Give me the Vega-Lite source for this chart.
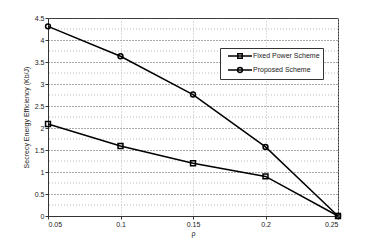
{
  "$schema": "https://vega.github.io/schema/vega-lite/v6.json",
  "width": 290,
  "height": 198,
  "autosize": {"type": "none"},
  "padding": {"left": 48, "top": 18, "right": 36, "bottom": 28},
  "background": "white",
  "config": {
    "font": "Liberation Sans",
    "view": {"stroke": "#333333", "strokeWidth": 1},
    "axis": {"labelFont": "Liberation Sans", "titleFont": "Liberation Sans", "labelFontSize": 7, "titleFontSize": 7, "titleFontWeight": "normal", "labelColor": "#222", "titleColor": "#222", "domainColor": "#333", "tickColor": "#333"}
  },
  "data": {"values": [
    {"rho": 0.05, "value": 2.09, "series": "Fixed Power Scheme"},
    {"rho": 0.10, "value": 1.59, "series": "Fixed Power Scheme"},
    {"rho": 0.15, "value": 1.2, "series": "Fixed Power Scheme"},
    {"rho": 0.20, "value": 0.9, "series": "Fixed Power Scheme"},
    {"rho": 0.25, "value": 0.0, "series": "Fixed Power Scheme"},
    {"rho": 0.05, "value": 4.31, "series": "Proposed Scheme"},
    {"rho": 0.10, "value": 3.63, "series": "Proposed Scheme"},
    {"rho": 0.15, "value": 2.76, "series": "Proposed Scheme"},
    {"rho": 0.20, "value": 1.57, "series": "Proposed Scheme"},
    {"rho": 0.25, "value": 0.0, "series": "Proposed Scheme"}
  ]},
  "encoding": {
    "x": {"field": "rho", "type": "quantitative", "scale": {"domain": [0.05, 0.25], "nice": false, "zero": false},
      "axis": {"title": "ρ", "values": [0.05, 0.1, 0.15, 0.2, 0.25], "format": ".2~f", "grid": true, "gridDash": [1, 2], "gridColor": "#bbbbbb", "tickSize": 3, "labelPadding": 1, "titlePadding": 2}},
    "y": {"field": "value", "type": "quantitative", "scale": {"domain": [0, 4.5], "nice": false},
      "axis": {"title": "Secrecy Energy Efficiency (Kb/J)", "values": [0, 0.5, 1, 1.5, 2, 2.5, 3, 3.5, 4, 4.5], "format": "~g", "grid": true, "gridDash": [1, 2], "gridColor": "#555555", "tickSize": 3, "labelPadding": 1, "titlePadding": 5}}
  },
  "layer": [
    {
      "mark": {"type": "rule", "strokeDash": [1, 2], "color": "#bbbbbb", "strokeWidth": 1},
      "data": {"values": [{"g": 0.25}, {"g": 0.75}, {"g": 1.25}, {"g": 1.75}, {"g": 2.25}, {"g": 2.75}, {"g": 3.25}, {"g": 3.75}, {"g": 4.25}]},
      "encoding": {"y": {"field": "g", "type": "quantitative"}, "x": null}
    },
    {
      "mark": {"type": "line", "color": "black", "strokeWidth": 1.5},
      "encoding": {"detail": {"field": "series"}}
    },
    {
      "mark": {"type": "point", "filled": false, "color": "black", "strokeWidth": 1.5, "size": 24, "opacity": 1},
      "encoding": {"shape": {"field": "series", "type": "nominal", "scale": {"domain": ["Fixed Power Scheme", "Proposed Scheme"], "range": ["square", "circle"]}, "legend": null}}
    },
    {
      "mark": {"type": "point", "filled": false, "color": "black", "opacity": 0, "size": 1},
      "encoding": {"shape": {"field": "series", "type": "nominal",
        "scale": {"domain": ["Fixed Power Scheme", "Proposed Scheme"], "range": ["M-3,0H3M-0.55,-0.55H0.55V0.55H-0.55Z", "M-3,0H3M-0.6,0A0.6,0.6 0 1,1 0.6,0A0.6,0.6 0 1,1 -0.6,0Z"]},
        "legend": {"title": null, "orient": "none", "legendX": 172, "legendY": 30, "symbolSize": 64, "symbolOpacity": 1, "symbolStrokeColor": "black", "symbolFillColor": "#333", "symbolStrokeWidth": 1.5, "labelFontSize": 7, "labelFont": "Liberation Sans", "labelColor": "#222", "rowPadding": 2, "padding": 3, "strokeColor": "#333", "fillColor": "white", "labelOffset": 8, "symbolOffset": 12}}}
    }
  ],
  "resolve": {"scale": {"shape": "independent"}}
}
